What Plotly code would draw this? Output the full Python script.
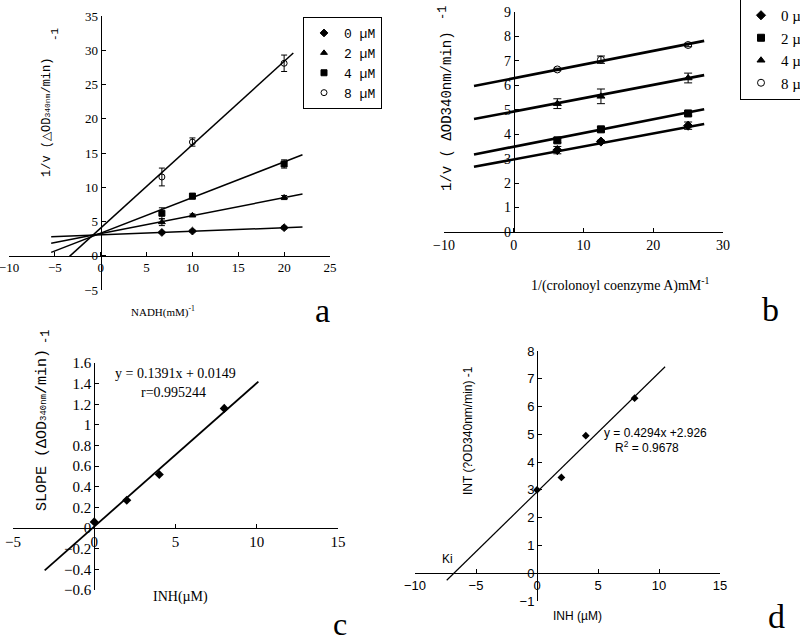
import numpy as np
import plotly.graph_objects as go

W, H = 800, 635

# ---------------- data ----------------
# Panel a : 1/v vs 1/[NADH]
a_names = ["0 µM", "2 µM", "4 µM", "8 µM"]
a_x = [6.67, 10, 20]
a_y = [[3.4, 3.6, 4.1], [4.9, 5.9, 8.5], [6.2, 8.7, 13.4], [11.5, 16.6, 28.1]]
a_err = [[0.15, 0.15, 0.2], [0.5, 0.2, 0.3], [0.8, 0.4, 0.6], [1.3, 0.6, 1.2]]
a_slope = [0.052, 0.262, 0.52, 1.217]
a_icpt = [3.05, 3.24, 3.3, 4.04]
a_xstart = [-5.4, -5.4, -5.4, -3.4]
a_xend = [22, 22, 22, 21]
a_symbols = ["diamond", "triangle-up", "square", "circle-open"]

# Panel b : 1/v vs 1/[crotonoyl CoA]
b_names = ["0 µm", "2 µm", "4 µm", "8 µm"]
b_x = [6.25, 12.5, 25]
b_y = [[3.35, 3.7, 4.35], [3.75, 4.2, 4.85], [5.25, 5.55, 6.3], [6.65, 7.05, 7.65]]
b_err = [[0.15, 0.05, 0.15], [0.1, 0.1, 0.1], [0.2, 0.3, 0.2], [0.05, 0.15, 0.07]]
b_slope = [0.053, 0.056, 0.0545, 0.056]
b_icpt = [2.97, 3.49, 4.93, 6.29]
b_xstart = [-5.7, -5.7, -5.7, -5.7]
b_xend = [27.3, 27.3, 27.3, 27.3]
b_symbols = ["diamond", "square", "triangle-up", "circle-open"]

# Panel c : slope replot
c_x = [0, 2, 4, 8]
c_y = [0.06, 0.27, 0.52, 1.16]
c_slope, c_icpt = 0.1391, 0.0149
c_xfit = [-3.05, 10.1]

# Panel d : intercept replot
d_x = [0, 2, 4, 8]
d_y = [3.0, 3.45, 4.95, 6.3]
d_slope, d_icpt = 0.4294, 2.926
d_xfit = [-7.4, 10.5]

# ---------------- layout helpers ----------------
def xdom(p0, p1):
    return [p0 / W, p1 / W]

def ydom(top, bottom):
    return [1 - bottom / H, 1 - top / H]

panels = {
    "a": (xdom(9, 330), ydom(16, 290), [-10, 25], [-5, 35], 5, 5),
    "b": (xdom(444, 723), ydom(12, 232), [-10, 30], [0, 9], 10, 1),
    "c": (xdom(13, 338), ydom(363, 590), [-5, 15], [-0.6, 1.6], 5, 0.2),
    "d": (xdom(415, 720), ydom(351, 601), [-10, 15], [-1, 8], 5, 1),
}
tickfonts = {
    "a": dict(family="Liberation Serif", size=13, color="black"),
    "b": dict(family="Liberation Serif", size=14, color="black"),
    "c": dict(family="Liberation Serif", size=15, color="black"),
    "d": dict(family="Liberation Sans", size=13, color="black"),
}

fig = go.Figure()
layout = dict(
    width=W, height=H,
    margin=dict(l=0, r=0, t=0, b=0, autoexpand=False),
    paper_bgcolor="white", plot_bgcolor="white",
)

for i, (name, (xd, yd, xr, yr, dx, dy)) in enumerate(panels.items()):
    k = "" if i == 0 else str(i + 1)
    xpos = yd[0] + (0 - yr[0]) / (yr[1] - yr[0]) * (yd[1] - yd[0])
    ypos = xd[0] + (0 - xr[0]) / (xr[1] - xr[0]) * (xd[1] - xd[0])
    common = dict(showgrid=False, zeroline=False, showline=True, linecolor="black",
                  linewidth=1, ticks="inside", ticklen=4, tickcolor="black",
                  tickfont=tickfonts[name], fixedrange=True, ticklabeloverflow="allow")
    layout["xaxis" + k] = dict(domain=xd, range=xr, dtick=dx, tick0=0,
                               anchor="free", position=xpos, **common)
    layout["yaxis" + k] = dict(domain=yd, range=yr, dtick=dy, tick0=0,
                               anchor="free", position=ypos, **common)

# ---- panel a traces
for i in range(4):
    xs = np.array([a_xstart[i], a_xend[i]])
    fig.add_trace(go.Scatter(x=xs, y=a_slope[i] * xs + a_icpt[i], mode="lines",
                             line=dict(color="black", width=1.5), showlegend=False,
                             xaxis="x", yaxis="y", hoverinfo="skip"))
for i in range(4):
    fig.add_trace(go.Scatter(x=a_x, y=a_y[i], mode="markers", name=a_names[i],
                             marker=dict(symbol=a_symbols[i], size=6, color="black",
                                         line=dict(color="black", width=1)),
                             error_y=dict(type="data", array=a_err[i], color="black",
                                          thickness=1, width=3),
                             xaxis="x", yaxis="y", legend="legend"))

# ---- panel b traces
for i in range(4):
    xs = np.array([b_xstart[i], b_xend[i]])
    fig.add_trace(go.Scatter(x=xs, y=b_slope[i] * xs + b_icpt[i], mode="lines",
                             line=dict(color="black", width=2.6), showlegend=False,
                             xaxis="x2", yaxis="y2", hoverinfo="skip"))
for i in range(4):
    fig.add_trace(go.Scatter(x=b_x, y=b_y[i], mode="markers", name=b_names[i],
                             marker=dict(symbol=b_symbols[i], size=7, color="black",
                                         line=dict(color="black", width=1)),
                             error_y=dict(type="data", array=b_err[i], color="black",
                                          thickness=1, width=4),
                             xaxis="x2", yaxis="y2", legend="legend2"))

# ---- panel c traces
cx = np.array(c_xfit)
fig.add_trace(go.Scatter(x=cx, y=c_slope * cx + c_icpt, mode="lines",
                         line=dict(color="black", width=1.8), showlegend=False,
                         xaxis="x3", yaxis="y3"))
fig.add_trace(go.Scatter(x=c_x, y=c_y, mode="markers", showlegend=False,
                         marker=dict(symbol="diamond", size=7, color="black"),
                         xaxis="x3", yaxis="y3"))

# ---- panel d traces
dxs = np.array(d_xfit)
fig.add_trace(go.Scatter(x=dxs, y=d_slope * dxs + d_icpt, mode="lines",
                         line=dict(color="black", width=1.2), showlegend=False,
                         xaxis="x4", yaxis="y4"))
fig.add_trace(go.Scatter(x=d_x, y=d_y, mode="markers", showlegend=False,
                         marker=dict(symbol="diamond", size=6, color="black"),
                         xaxis="x4", yaxis="y4"))

layout["legend"] = dict(x=303 / W, y=1 - 17 / H, xanchor="left", yanchor="top",
                        bordercolor="black", borderwidth=1, bgcolor="white",
                        font=dict(family="Liberation Mono", size=13, color="black"),
                        itemwidth=30, tracegroupgap=0)
layout["legend2"] = dict(x=740 / W, y=1 + 2 / H, xanchor="left", yanchor="top",
                         bordercolor="black", borderwidth=1, bgcolor="white",
                         font=dict(family="Liberation Serif", size=15, color="black"),
                         itemwidth=30, tracegroupgap=0)

# ---------------- annotations ----------------
def ann(text, x, y, size, family="Liberation Serif", angle=0, xanchor="center"):
    return dict(text=text, x=x / W, y=1 - y / H, xref="paper", yref="paper",
                showarrow=False, textangle=angle, xanchor=xanchor, yanchor="middle",
                font=dict(family=family, size=size, color="black"))

mono = "Liberation Mono"
annotations = [
    # panel a
    ann("1/v (△OD<span style='font-size:8px'>340nm</span>/min)", 47, 118, 12, mono, -90),
    ann("-1", 55, 34, 11, mono, -90),
    ann("NADH(mM)<sup>-1</sup>", 163, 311, 11),
    ann("a", 322, 310, 34),
    # panel b
    ann("1/v ( ΔOD340nm/min)", 447, 111, 14, mono, -90),
    ann("-1", 443, 13, 12, mono, -90),
    ann("1/(crolonoyl coenzyme A)mM<sup>-1</sup>", 620, 284, 14),
    ann("b", 770, 309, 34),
    # panel c
    ann("SLOPE (ΔOD<span style='font-size:9px'>340nm</span>/min)", 42, 430, 15, mono, -90),
    ann("-1", 46, 337, 12, mono, -90),
    ann("y = 0.1391x + 0.0149", 175, 373, 14),
    ann("r=0.995244", 173, 392, 14),
    ann("INH(µM)", 180, 597, 14),
    ann("c", 340, 624, 32),
    # panel d
    ann("INT (?OD340nm/min) -1", 468, 431, 12, "Liberation Sans", -90),
    ann("y = 0.4294x +2.926", 655, 433, 12, "Liberation Sans"),
    ann("R<sup>2</sup> = 0.9678", 647, 447, 12, "Liberation Sans"),
    ann("Ki", 447, 559, 12, "Liberation Sans"),
    ann("INH (µM)", 577, 616, 12, "Liberation Sans"),
    ann("d", 776, 616, 34),
]
layout["annotations"] = annotations

fig.update_layout(**layout)
fig.write_html("out.html", config={"displayModeBar": False},
               post_script="document.body.style.margin='0px';document.body.style.padding='0px';")
